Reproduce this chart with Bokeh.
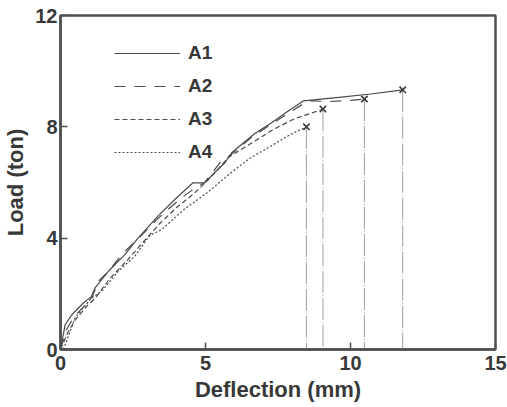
from bokeh.plotting import figure
from bokeh.models import Range1d, FixedTicker, Legend, LegendItem
from bokeh.embed import file_html
from bokeh.resources import INLINE

# ---- data ----
names = ["A1", "A2", "A3", "A4"]
a1_x = [0, 0.16, 0.39, 0.79, 1.07, 1.19, 1.65, 2.22, 2.68, 3.36, 3.94, 4.57, 4.97, 5.31, 5.67, 5.90, 6.69, 7.28, 7.79, 8.37, 9.6, 10.7, 11.80]
a1_y = [0, 0.89, 1.25, 1.67, 1.91, 2.21, 2.81, 3.41, 4.01, 4.79, 5.39, 5.99, 5.99, 6.35, 6.71, 7.07, 7.75, 8.15, 8.52, 8.93, 9.06, 9.18, 9.33]
a2_x = [0, 0.2, 0.45, 0.85, 1.1, 1.3, 1.65, 2.16, 2.7, 3.3, 4.1, 4.57, 4.97, 5.5, 6.0, 6.59, 7.2, 7.8, 8.3, 8.6, 9.3, 10.0, 10.48]
a2_y = [0, 0.7, 1.15, 1.6, 1.9, 2.45, 2.81, 3.47, 4.0, 4.65, 5.39, 5.75, 6.0, 6.71, 7.1, 7.62, 8.05, 8.45, 8.78, 8.93, 8.91, 8.95, 9.0]
a3_x = [0, 0.25, 0.5, 0.9, 1.2, 1.7, 2.3, 2.8, 3.4, 4.0, 4.6, 5.1, 5.79, 6.59, 7.38, 8.07, 8.58, 9.05]
a3_y = [0, 0.6, 1.05, 1.55, 1.85, 2.55, 3.2, 3.8, 4.5, 5.1, 5.6, 6.1, 6.9, 7.42, 7.93, 8.29, 8.47, 8.64]
a4_x = [0.1, 0.5, 1.07, 1.42, 1.99, 2.56, 3.08, 3.48, 4.28, 5.08, 5.88, 6.5, 7.16, 7.8, 8.19, 8.48]
a4_y = [0, 1.13, 1.85, 2.09, 2.81, 3.35, 4.1, 4.3, 5.05, 5.65, 6.35, 6.85, 7.25, 7.65, 7.86, 8.0]
x_ticks = [0, 5, 10, 15]
y_ticks = [0, 4, 8, 12]

series_x = [a1_x, a2_x, a3_x, a4_x]
series_y = [a1_y, a2_y, a3_y, a4_y]
dashes = ["solid", "11 9", "5 3", "2 2"]

INK = "#4a4a4a"
TXT = "#383838"
FONT = "Liberation Sans"
TICK_FS = "20px"

p = figure(width=507, height=407, output_backend="svg", toolbar_location=None,
           x_range=Range1d(0, 15), y_range=Range1d(0, 12),
           min_border_left=58, min_border_right=12, min_border_top=15, min_border_bottom=58)
p.xgrid.visible = False
p.ygrid.visible = False
p.outline_line_color = "#505050"
p.outline_line_width = 2.5
p.background_fill_color = "white"
p.border_fill_color = "white"

for ax, ticks in ((p.xaxis, x_ticks), (p.yaxis, y_ticks)):
    ax.ticker = FixedTicker(ticks=ticks)
    ax.axis_line_color = "#505050"
    ax.axis_line_width = 2.5
    ax.major_tick_in = 7
    ax.major_tick_out = 0
    ax.major_tick_line_color = "#505050"
    ax.major_tick_line_width = 1.5
    ax.minor_tick_line_color = None
    ax.major_label_text_font = FONT
    ax.major_label_text_font_style = "bold"
    ax.major_label_text_font_size = TICK_FS
    ax.major_label_text_color = TXT
    ax.axis_label_text_font = FONT
    ax.axis_label_text_font_style = "bold"
    ax.axis_label_text_font_size = "22px"
    ax.axis_label_text_color = TXT

p.xaxis.axis_label = "Deflection (mm)"
p.yaxis.axis_label = "Load (ton)"
p.xaxis.major_label_standoff = 6
p.yaxis.major_label_standoff = 3
p.xaxis.axis_label_standoff = 4
p.yaxis.axis_label_standoff = 4

# vertical drop lines at failure points
end_x = [s[-1] for s in series_x]
end_y = [s[-1] for s in series_y]
p.segment(x0=end_x, y0=end_y, x1=end_x, y1=[0] * len(end_x),
          line_color="#a0a0a0", line_width=1, line_dash="22 2 1 2")

items = []
for nm, xs, ys, d in zip(names, series_x, series_y, dashes):
    r = p.line(xs, ys, line_color=INK, line_width=1.2, line_dash=d)
    items.append(LegendItem(label=nm, renderers=[r]))

p.scatter(end_x, end_y, marker="x", size=9, line_color="#3a3a3a", line_width=1.6)

legend = Legend(items=items, location=(54, 186), glyph_width=66, glyph_height=20,
                label_standoff=8, spacing=11, padding=0, margin=0,
                border_line_color=None, background_fill_alpha=0,
                label_text_font=FONT, label_text_font_style="bold",
                label_text_font_size="19px", label_text_color=TXT)
p.add_layout(legend)

open("out.html", "w").write(file_html(p, INLINE))
